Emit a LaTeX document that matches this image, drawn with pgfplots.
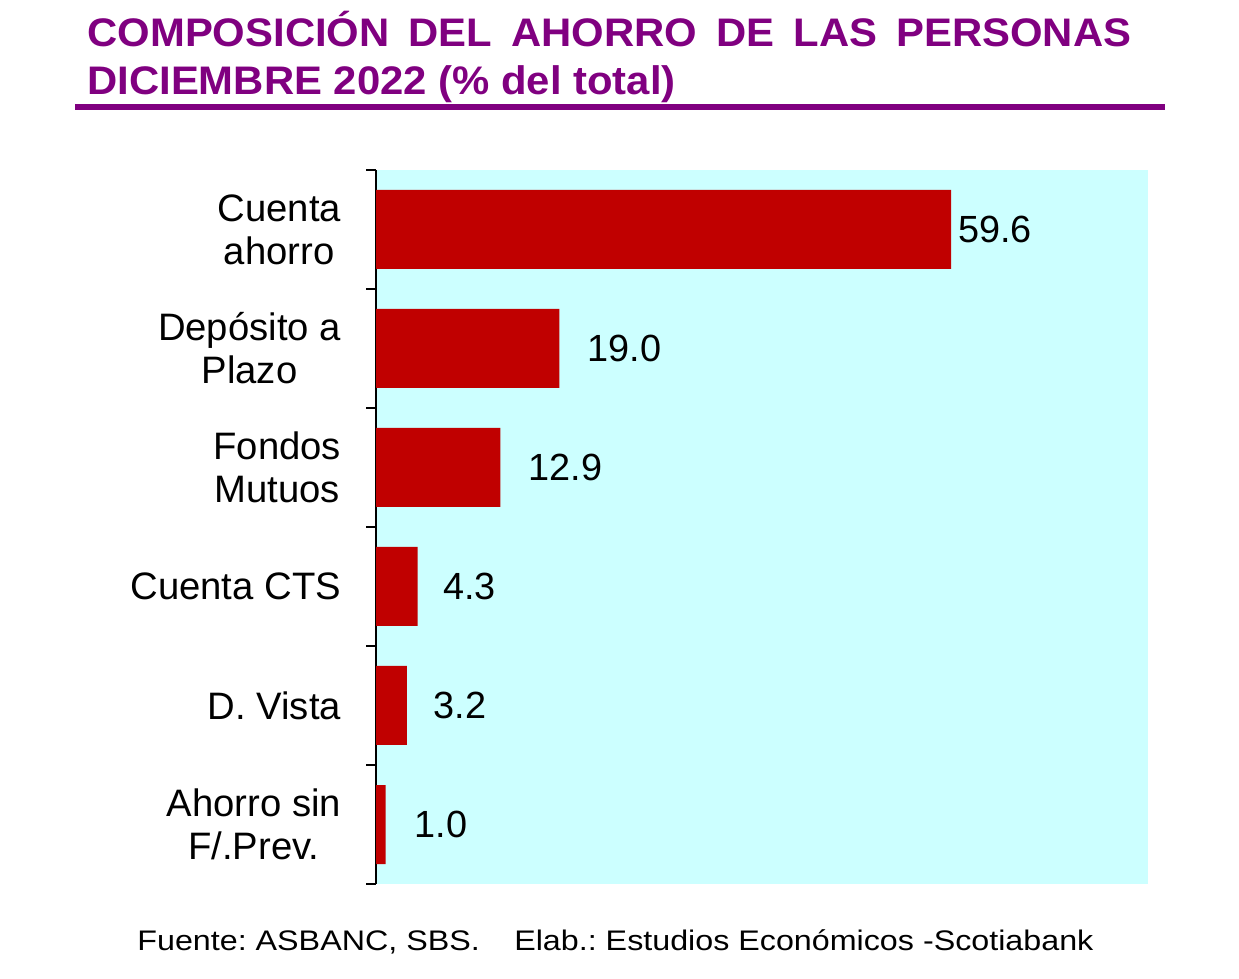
\documentclass[border=0pt]{standalone}
\usepackage{fontspec}
\setmainfont{Liberation Sans}
\usepackage{pgfplots}
\pgfplotsset{compat=1.18}
\definecolor{barred}{RGB}{192,0,0}
\definecolor{bgcyan}{RGB}{204,255,255}
\definecolor{ttlpurple}{RGB}{128,0,128}
\frenchspacing
\begin{document}
\begin{tikzpicture}[x=1bp,y=1bp]
\useasboundingbox (0,0) rectangle (619.5,489.5);
% title
\node[anchor=base west, inner sep=0, font=\bfseries\fontsize{20}{24}\selectfont, text=ttlpurple] at (43.5,466)
  {\scalebox{1.05}[1]{\hbox to 497.1bp{COMPOSICIÓN\hfill DEL\hfill AHORRO\hfill DE\hfill LAS\hfill PERSONAS}}};
\node[anchor=base west, inner sep=0, font=\bfseries\fontsize{20}{24}\selectfont, text=ttlpurple] at (43.5,442)
  {\scalebox{1.05}[1]{DICIEMBRE 2022 (\% del total)}};
\draw[ttlpurple, line width=3bp] (37.5,435.8) -- (582.5,435.8);
\begin{axis}[
  at={(188bp,47.5bp)}, anchor=south west,
  scale only axis, width=386bp, height=357bp,
  xmin=0, xmax=80, ymin=-0.5, ymax=5.5, y dir=reverse,
  axis x line=none, axis y line*=left,
  axis line style={line width=1bp, black, -},
  axis background/.style={fill=bgcyan},
  ytick={0,1,2,3,4,5},
  yticklabels={Cuenta\\ahorro, Depósito a\\Plazo, Fondos\\Mutuos, Cuenta CTS, D. Vista, Ahorro sin\\F/.Prev.},
  major tick length=0pt,
  yticklabel style={font=\fontsize{19.2}{21.5}\selectfont, align=center, anchor=east, xshift=-14bp},
  extra y ticks={-0.5,0.5,1.5,2.5,3.5,4.5,5.5},
  extra y tick labels={},
  extra y tick style={major tick length=5bp, tick align=outside, tick style={line width=1bp, black}},
  clip=false,
]
\addplot[xbar, fill=barred, draw=none, bar width=39.5bp, bar shift=0pt]
  coordinates {(59.6,0) (19.0,1) (12.9,2) (4.3,3) (3.2,4) (1.0,5)};
\addplot[only marks, mark=none, nodes near coords, point meta=explicit symbolic,
  nodes near coords align=horizontal,
  every node near coord/.append style={inner sep=0pt, anchor=west, font=\fontsize{19}{21.5}\selectfont, text=black}]
  coordinates {(60.3,0) [59.6] (21.9,1) [19.0] (15.75,2) [12.9] (6.94,3) [4.3] (5.91,4) [3.2] (3.94,5) [1.0]};
\end{axis}
% footer
\node[anchor=base west, inner sep=0, font=\fontsize{14.2}{16}\selectfont] at (68.5,14)
  {\scalebox{1.14}[1]{\hbox to 419.3bp{Fuente: ASBANC, SBS.\hfill Elab.: Estudios Económicos -Scotiabank}}};
\end{tikzpicture}
\end{document}
